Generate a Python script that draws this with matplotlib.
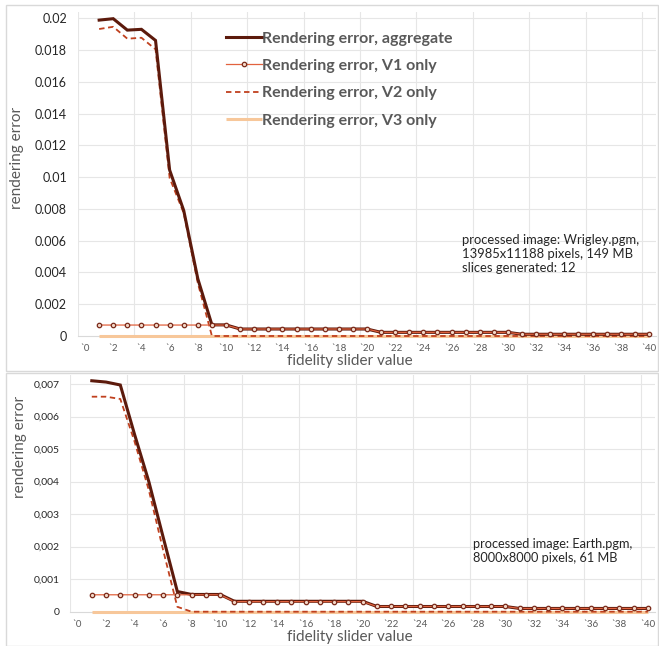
import matplotlib
matplotlib.use("Agg")
import matplotlib.pyplot as plt
from matplotlib.patches import Rectangle

plt.rcParams['font.family'] = ['Lato', 'DejaVu Sans']

slider = list(range(1, 41))
cat_labels = ["`%d" % v for v in range(0, 41, 2)]

top_aggregate = [0.01989, 0.01998, 0.01926, 0.01931, 0.01861, 0.01045, 0.00790, 0.00360, 0.00070, 0.00070,
                 0.00044, 0.00044, 0.00044, 0.00044, 0.00044, 0.00044, 0.00044, 0.00044, 0.00044, 0.00044,
                 0.00023, 0.00023, 0.00023, 0.00023, 0.00023, 0.00023, 0.00023, 0.00023, 0.00023, 0.00023,
                 0.00011, 0.00011, 0.00011, 0.00011, 0.00011, 0.00011, 0.00011, 0.00011, 0.00011, 0.00011]
top_v1 = [0.00069, 0.00069, 0.00069, 0.00069, 0.00069, 0.00069, 0.00069, 0.00069, 0.00069, 0.00069,
          0.00044, 0.00044, 0.00044, 0.00044, 0.00044, 0.00044, 0.00044, 0.00044, 0.00044, 0.00044,
          0.00023, 0.00023, 0.00023, 0.00023, 0.00023, 0.00023, 0.00023, 0.00023, 0.00023, 0.00023,
          0.00011, 0.00011, 0.00011, 0.00011, 0.00011, 0.00011, 0.00011, 0.00011, 0.00011, 0.00011]
top_v2 = [0.01933, 0.01947, 0.01872, 0.01878, 0.01805, 0.00995, 0.00774, 0.00333, 0.0, 0.0,
          0.0, 0.0, 0.0, 0.0, 0.0, 0.0, 0.0, 0.0, 0.0, 0.0,
          0.0, 0.0, 0.0, 0.0, 0.0, 0.0, 0.0, 0.0, 0.0, 0.0,
          0.0, 0.0, 0.0, 0.0, 0.0, 0.0, 0.0, 0.0, 0.0, 0.0]
top_v3 = [0.0] * 40

bot_aggregate = [0.00710, 0.00706, 0.00697, 0.00545, 0.00400, 0.00230, 0.00062, 0.00053, 0.00053, 0.00053,
                 0.00032, 0.00032, 0.00032, 0.00032, 0.00032, 0.00032, 0.00032, 0.00032, 0.00032, 0.00032,
                 0.00016, 0.00016, 0.00016, 0.00016, 0.00016, 0.00016, 0.00016, 0.00016, 0.00016, 0.00016,
                 0.00010, 0.00010, 0.00010, 0.00010, 0.00010, 0.00010, 0.00010, 0.00010, 0.00010, 0.00010]
bot_v1 = [0.00052, 0.00052, 0.00052, 0.00052, 0.00052, 0.00052, 0.00052, 0.00052, 0.00052, 0.00052,
          0.00031, 0.00031, 0.00031, 0.00031, 0.00031, 0.00031, 0.00031, 0.00031, 0.00031, 0.00031,
          0.00016, 0.00016, 0.00016, 0.00016, 0.00016, 0.00016, 0.00016, 0.00016, 0.00016, 0.00016,
          0.00010, 0.00010, 0.00010, 0.00010, 0.00010, 0.00010, 0.00010, 0.00010, 0.00010, 0.00010]
bot_v2 = [0.00661, 0.00661, 0.00654, 0.00523, 0.00374, 0.00190, 0.00015, 0.0, 0.0, 0.0,
          0.0, 0.0, 0.0, 0.0, 0.0, 0.0, 0.0, 0.0, 0.0, 0.0,
          0.0, 0.0, 0.0, 0.0, 0.0, 0.0, 0.0, 0.0, 0.0, 0.0,
          0.0, 0.0, 0.0, 0.0, 0.0, 0.0, 0.0, 0.0, 0.0, 0.0]
bot_v3 = [0.0] * 40

top_yticks = [0, 0.002, 0.004, 0.006, 0.008, 0.01, 0.012, 0.014, 0.016, 0.018, 0.02]
top_ylabels = ["0", "0.002", "0.004", "0.006", "0.008", "0.01", "0.012", "0.014", "0.016", "0.018", "0.02"]
bot_yticks = [0, 0.001, 0.002, 0.003, 0.004, 0.005, 0.006, 0.007]
bot_ylabels = ["0", "0,001", "0,002", "0,003", "0,004", "0,005", "0,006", "0,007"]

series_names = ["Rendering error, aggregate", "Rendering error, V1 only",
                "Rendering error, V2 only", "Rendering error, V3 only"]

C_AGG = "#5c1a0c"
C_V1 = "#e2623e"
C_V1M = "#7a2a1a"
C_V2 = "#c0401e"
C_V3 = "#f7c79a"
GRID = "#e6e6e6"
TXT = "#595959"

W, H = 659, 646
fig = plt.figure(figsize=(W / 100, H / 100), dpi=100)
fig.patch.set_facecolor("white")

# chart frames
fig.add_artist(Rectangle((6 / W, 1 - 371 / H), 652 / W, 366 / H, transform=fig.transFigure,
                         fill=False, ec="#d9d9d9", lw=1.0))
fig.add_artist(Rectangle((6 / W, 0.5 / H), 652 / W, (646 - 373) / H, transform=fig.transFigure,
                         fill=False, ec="#d9d9d9", lw=1.0))


def make_axes(left_px, right_px, top_px, bottom_px):
    return fig.add_axes([left_px / W, 1 - bottom_px / H, (right_px - left_px) / W, (bottom_px - top_px) / H])


def draw(ax, agg, v1, v2, v3, yticks, ylabels, ytop, yfs, legend):
    ax.set_xlim(-0.5, 40.5)
    ax.set_ylim(0, ytop)
    for g in [3.5 + 4 * k for k in range(10)]:
        ax.axvline(g, color=GRID, lw=0.8, zorder=0)
    for t in yticks[1:]:
        ax.axhline(t, color=GRID, lw=0.8, zorder=0)
    ax.axvline(-0.5, color=GRID, lw=0.8, zorder=0)
    l3, = ax.plot(slider, v3, color=C_V3, lw=2.2, zorder=2, solid_capstyle="butt", clip_on=False)
    l2, = ax.plot(slider, v2, color=C_V2, lw=1.3, ls=(0, (3, 2)), zorder=3, clip_on=False)
    l0, = ax.plot(slider, agg, color=C_AGG, lw=2.2, zorder=4, solid_joinstyle="miter", clip_on=False)
    l1, = ax.plot(slider, v1, color=C_V1, lw=0.9, marker="o", ms=3.2, mfc="#f3d8c8",
                  mec=C_V1M, mew=0.9, zorder=5, clip_on=False)
    ax.set_xticks(list(range(0, 41, 2)))
    ax.set_xticklabels(cat_labels, fontsize=7, color=TXT)
    ax.set_yticks(yticks)
    ax.set_yticklabels(ylabels, fontsize=yfs, color="#262626")
    ax.tick_params(axis="x", length=0, pad=6)
    ax.tick_params(axis="y", length=0, pad=8)
    for s in ["top", "right", "left"]:
        ax.spines[s].set_visible(False)
    ax.spines["bottom"].set_color("#d9d9d9")
    ax.spines["bottom"].set_linewidth(0.8)
    ax.spines["bottom"].set_zorder(1)
    if legend:
        ax.legend([l0, l1, l2, l3], series_names, loc="upper left",
                  bbox_to_anchor=((212 - 78) / (656 - 78), 1 - (17 - 11.7) / (336 - 11.7)),
                  frameon=False, handlelength=2.2, handletextpad=0.05, labelspacing=0.83,
                  prop={"family": ["Lato", "DejaVu Sans"], "weight": "bold", "size": 11.5},
                  labelcolor=TXT)


ax1 = make_axes(78, 656, 11.7, 336)
draw(ax1, top_aggregate, top_v1, top_v2, top_v3, top_yticks, top_ylabels, 0.02042, 9, True)
ax1.text(462 / W, 1 - 234 / H,
         "processed image: Wrigley.pgm,\n13985x11188 pixels, 149 MB\nslices generated: 12",
         transform=fig.transFigure, fontsize=9.4, color="#262626", va="top", ha="left", linespacing=1.22)

ax2 = make_axes(70.4, 655, 375, 611.7)
draw(ax2, bot_aggregate, bot_v1, bot_v2, bot_v3, bot_yticks, bot_ylabels, 0.007277, 7.5, False)
ax2.text(473 / W, 1 - 538 / H,
         "processed image: Earth.pgm,\n8000x8000 pixels, 61 MB",
         transform=fig.transFigure, fontsize=9.2, color="#262626", va="top", ha="left", linespacing=1.22)

fig.text(17 / W, 1 - 158 / H, "rendering error", rotation=90, ha="center", va="center",
         fontsize=11, color=TXT)
fig.text(350 / W, 1 - 361 / H, "fidelity slider value", ha="center", va="center",
         fontsize=11, color=TXT)
fig.text(20 / W, 1 - 447 / H, "rendering error", rotation=90, ha="center", va="center",
         fontsize=11, color=TXT)
fig.text(350 / W, 1 - 637 / H, "fidelity slider value", ha="center", va="center",
         fontsize=11, color=TXT)

fig.savefig("out.png", dpi=100)
